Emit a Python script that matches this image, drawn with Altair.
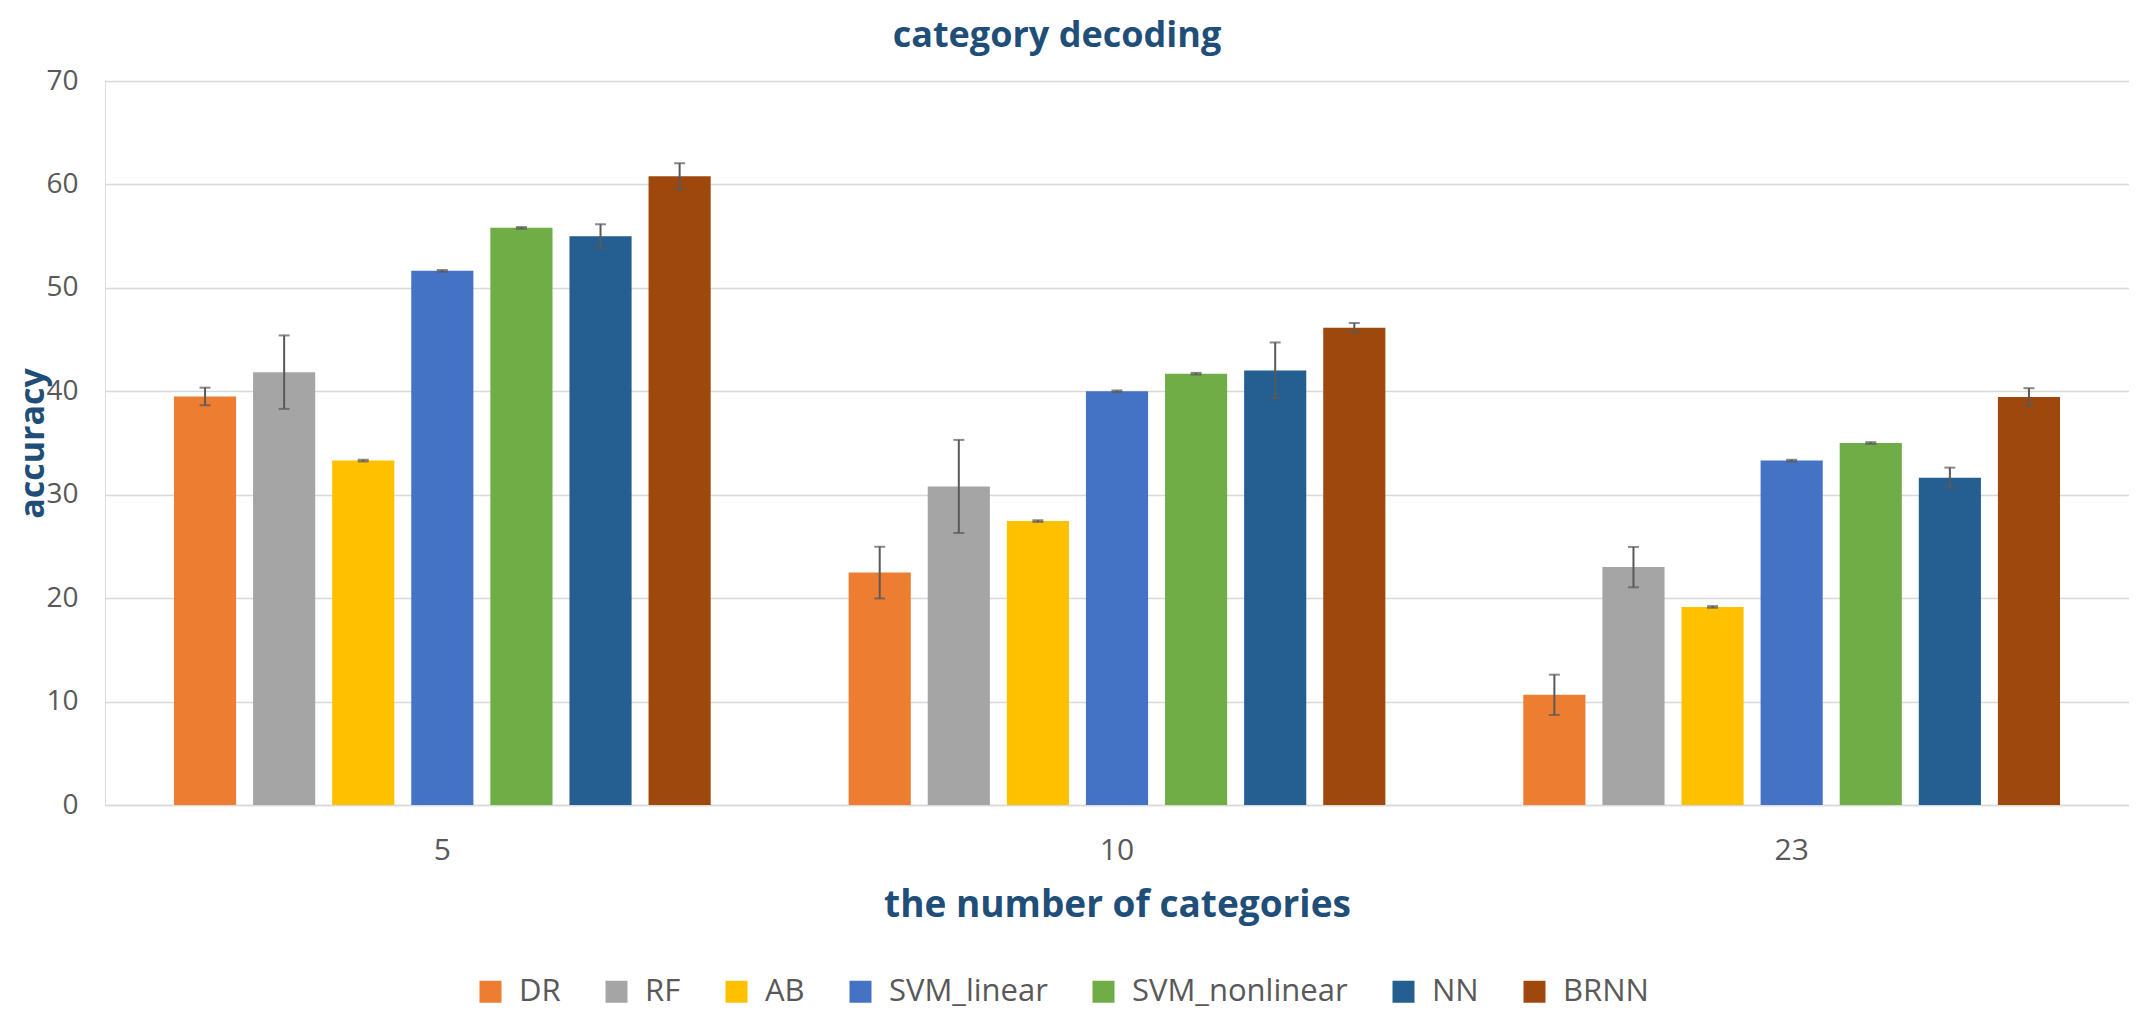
import altair as alt
import pandas as pd

methods = ["DR", "RF", "AB", "SVM_linear", "SVM_nonlinear", "NN", "BRNN"]
categories = ["5", "10", "23"]
colors = ["#ED7D31", "#A5A5A5", "#FFC000", "#4472C4", "#70AD47", "#255E91", "#9E480E"]

acc_5 = [39.5, 41.85, 33.3, 51.65, 55.8, 55.0, 60.8]
err_5 = [0.85, 3.55, 0.08, 0.08, 0.08, 1.15, 1.25]
acc_10 = [22.47, 30.8, 27.45, 40.0, 41.7, 42.02, 46.15]
err_10 = [2.5, 4.5, 0.08, 0.08, 0.08, 2.7, 0.45]
acc_23 = [10.65, 23.0, 19.15, 33.3, 35.0, 31.65, 39.45]
err_23 = [1.95, 1.95, 0.08, 0.08, 0.08, 0.97, 0.85]

rows = []
for cat, accs, errs in zip(categories, [acc_5, acc_10, acc_23], [err_5, err_10, err_23]):
    for m, a, e in zip(methods, accs, errs):
        rows.append({"cat": cat, "method": m, "acc": a, "lo": a - e, "hi": a + e})
df = pd.DataFrame(rows)

FONT = "Open Sans"
TITLE_COLOR = "#1F4E79"
LABEL_COLOR = "#595959"

x_enc = alt.X(
    "cat:N",
    sort=categories,
    scale=alt.Scale(paddingInner=0, paddingOuter=0),
    axis=alt.Axis(
        title="the number of categories",
        titleFont=FONT, titleFontSize=37, titleFontWeight="bold", titleColor=TITLE_COLOR,
        titlePadding=22,
        labelAngle=0, labelFont=FONT, labelFontSize=30, labelColor=LABEL_COLOR,
        labelPadding=30, ticks=False,
        domainColor="#D9D9D9", domainWidth=1.5,
    ),
)
xoff_enc = alt.XOffset(
    "method:N", sort=methods,
    scale=alt.Scale(domain=methods, paddingInner=0.2144, paddingOuter=0.872),
)
y_scale = alt.Scale(domain=[0, 70], nice=False)

bars = alt.Chart(df).mark_bar().encode(
    x=x_enc,
    xOffset=xoff_enc,
    y=alt.Y(
        "acc:Q",
        scale=y_scale,
        axis=alt.Axis(
            title="accuracy",
            titleFont=FONT, titleFontSize=34, titleFontWeight="bold", titleColor=TITLE_COLOR,
            titlePadding=-5,
            values=[0, 10, 20, 30, 40, 50, 60, 70],
            labelFont=FONT, labelFontSize=28, labelColor=LABEL_COLOR, labelPadding=27,
            ticks=False, domain=False,
            grid=True, gridColor="#D9D9D9", gridWidth=1.5,
        ),
    ),
    color=alt.Color(
        "method:N",
        sort=methods,
        scale=alt.Scale(domain=methods, range=colors),
        legend=alt.Legend(
            title=None, orient="none", direction="horizontal",
            legendX=370, legendY=895,
            symbolType="square", symbolSize=484, symbolStrokeWidth=0,
            labelFont=FONT, labelFontSize=31, labelColor=LABEL_COLOR,
            labelOffset=13, columnPadding=40, padding=0, labelLimit=0,
        ),
    ),
)

err_lines = alt.Chart(df).mark_rule(color="#595959", strokeWidth=2).encode(
    x=x_enc, xOffset=xoff_enc,
    y=alt.Y("lo:Q", scale=y_scale),
    y2="hi:Q",
)

caps = alt.Chart(df).transform_fold(["lo", "hi"], as_=["end", "val"]).mark_tick(
    color="#595959", thickness=2, size=11, orient="horizontal"
).encode(
    x=x_enc, xOffset=xoff_enc,
    y=alt.Y("val:Q", scale=y_scale),
)

chart = alt.layer(bars, err_lines, caps).properties(
    width=2024,
    height=724,
    padding={"left": 97, "top": 73, "right": 0, "bottom": 207},
    autosize=alt.AutoSizeParams(type="none"),
    title=alt.Title(
        "category decoding", font=FONT, fontSize=36, fontWeight="bold",
        color=TITLE_COLOR, anchor="middle", dx=-60, offset=12,
    ),
).configure_view(strokeWidth=0).configure(background="white")

chart.save("out.html", embed_options={"renderer": "svg", "actions": False})
